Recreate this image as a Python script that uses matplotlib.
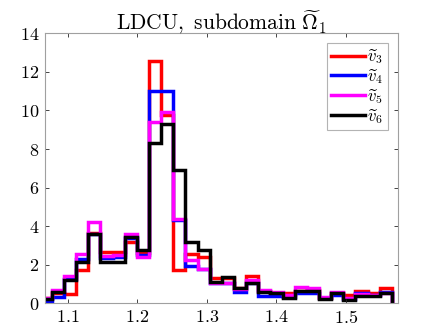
import numpy as np
import matplotlib
matplotlib.use("Agg")
import matplotlib.pyplot as plt

plt.rcParams["font.family"] = "cmr10"
plt.rcParams["mathtext.fontset"] = "cm"
plt.rcParams["axes.formatter.use_mathtext"] = True

# histogram bin edges (29 bins) and densities per series
first_edge = 1.0597
bin_width = 0.01747
n_bins = 29

v3 = [0.30, 0.55, 0.47, 1.73, 3.62, 2.68, 2.68, 3.16, 2.60, 12.58, 9.77, 1.73, 2.54, 2.38,
      1.30, 1.30, 0.80, 1.43, 0.65, 0.55, 0.52, 0.66, 0.68, 0.30, 0.52, 0.43, 0.64, 0.52, 0.81]
v4 = [0.05, 0.34, 1.25, 2.28, 3.60, 2.36, 2.42, 3.40, 2.50, 11.00, 11.00, 4.30, 1.93, 1.80,
      1.05, 1.05, 0.60, 1.05, 0.38, 0.40, 0.35, 0.52, 0.56, 0.26, 0.45, 0.22, 0.52, 0.43, 0.60]
v5 = [0.29, 0.69, 1.41, 2.56, 4.23, 2.45, 2.50, 3.58, 2.38, 9.42, 9.90, 4.35, 2.25, 1.78,
      1.04, 1.04, 0.75, 1.20, 0.69, 0.60, 0.45, 0.86, 0.78, 0.35, 0.60, 0.30, 0.47, 0.45, 0.55]
v6 = [0.24, 0.57, 1.21, 2.13, 3.58, 2.13, 2.13, 3.46, 2.77, 8.33, 9.30, 6.91, 3.16, 2.76,
      1.12, 1.35, 0.78, 1.04, 0.60, 0.52, 0.26, 0.64, 0.64, 0.22, 0.52, 0.17, 0.38, 0.38, 0.52]

series = [v3, v4, v5, v6]
labels = [r"$\widetilde{v}_3$", r"$\widetilde{v}_4$", r"$\widetilde{v}_5$", r"$\widetilde{v}_6$"]
colors = ["#ff0000", "#0000ff", "#ff00ff", "#000000"]

edges = first_edge + bin_width * np.arange(n_bins + 1)

fig = plt.figure(figsize=(4.24, 3.35), dpi=100)
ax = fig.add_axes([0.1061, 0.0946, 0.832, 0.806])

for vals, lab, col in zip(series, labels, colors):
    ax.stairs(vals, edges, baseline=0, color=col, linewidth=2.5, label=lab)

ax.set_xlim(1.0674, 1.5748)
ax.set_ylim(0, 14)
ax.set_xticks([1.1, 1.2, 1.3, 1.4, 1.5])
ax.set_yticks(np.arange(0, 15, 2))
ax.tick_params(direction="in", top=True, right=True, labelsize=13, length=3,
               color="#262626", width=0.6, pad=4)
for s in ax.spines.values():
    s.set_color("#a0a0a0")
    s.set_linewidth(0.8)

ax.set_title(r"$\mathrm{LDCU,\ subdomain}\ \widetilde{\Omega}_1$", fontsize=15.5, pad=3)

leg = ax.legend(loc="upper right", fancybox=False, edgecolor="#a0a0a0", fontsize=12,
                handlelength=2.0, borderaxespad=0.6, labelspacing=0.05,
                handletextpad=0.15, borderpad=0.25)
leg.get_frame().set_linewidth(0.8)

fig.savefig("out.png", dpi=100)
